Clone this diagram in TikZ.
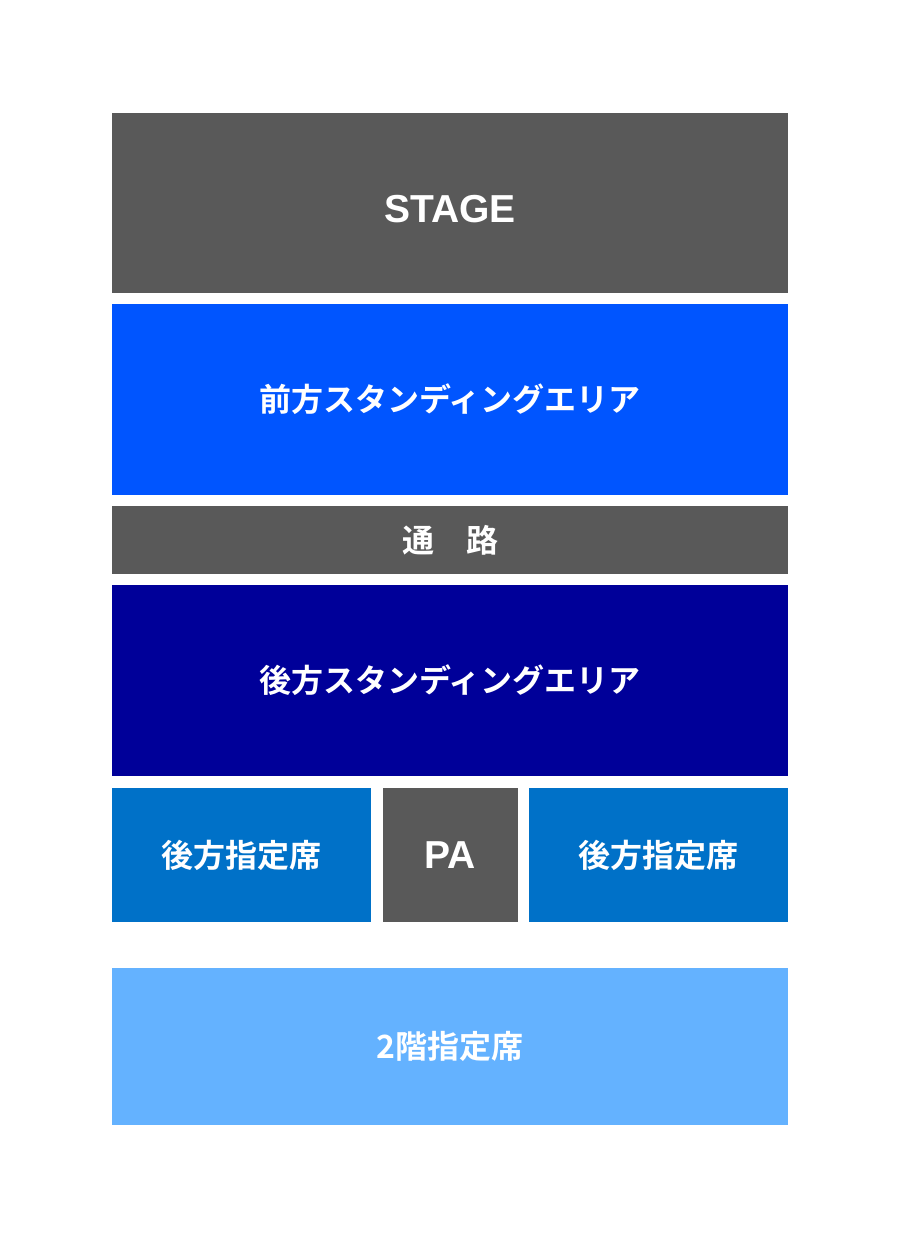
\documentclass[tikz,border=0pt]{standalone}
\usepackage{fontspec}
\usepackage{tikz}
\usepackage{xcolor}
\newfontfamily\jpfont{Noto Sans CJK JP}[BoldFont={Noto Sans CJK JP Bold}]
\newfontfamily\latinfont{Liberation Sans}
\definecolor{stagegray}{RGB}{89,89,89}
\definecolor{frontblue}{RGB}{0,85,255}
\definecolor{backblue}{RGB}{0,0,153}
\definecolor{seatblue}{RGB}{0,113,200}
\definecolor{upperblue}{RGB}{100,178,255}

\begin{document}
\begin{tikzpicture}[x=0.5pt,y=-0.5pt,
  area/.style={rectangle,inner sep=0pt,outer sep=0pt,text=white,font=\jpfont\bfseries\fontsize{16pt}{18pt}\selectfont},
  latinarea/.style={area,font=\latinfont\bfseries\fontsize{19.5pt}{21pt}\selectfont}]

  \useasboundingbox[fill=white] (0,0) rectangle (900,1238);

  \node [latinarea,fill=stagegray,minimum width=338pt,minimum height=90pt,text height=19pt,text depth=0pt] (stage) at (450,203) {STAGE};

  \node [area,fill=frontblue,minimum width=338pt,minimum height=95.5pt] (front) at (450,399.5) {前方スタンディングエリア};

  \node [area,fill=stagegray,minimum width=338pt,minimum height=34pt] (aisle) at (450,540) {通　路};

  \node [area,fill=backblue,minimum width=338pt,minimum height=95.5pt] (back) at (450,680.5) {後方スタンディングエリア};

  \node [area,fill=seatblue,minimum width=129.5pt,minimum height=67pt] (seatl) at (241.5,855) {後方指定席};
  \node [latinarea,fill=stagegray,minimum width=67.5pt,minimum height=67pt] (pa) at (450.5,855) {PA};
  \node [area,fill=seatblue,minimum width=129.5pt,minimum height=67pt] (seatr) at (658.5,855) {後方指定席};

  \node [area,fill=upperblue,minimum width=338pt,minimum height=78.5pt] (upper) at (450,1046.5) {2階指定席};

\end{tikzpicture}
\end{document}
